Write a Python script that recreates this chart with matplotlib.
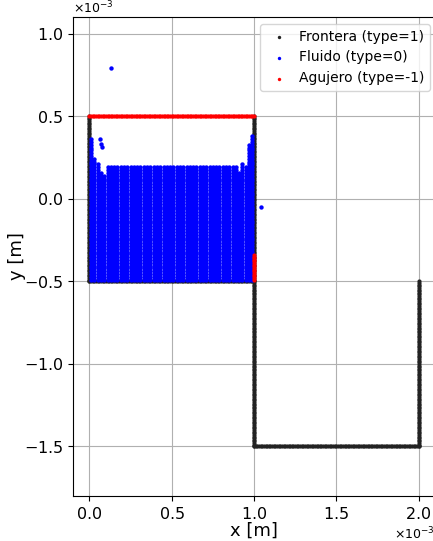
import numpy as np
import matplotlib.pyplot as plt

# values in units of 1e-3 m, scaled when plotted
scale = 1e-3

# boundary walls (type=1): segments (x0, y0, x1, y1)
frontera_segments = [
    (0.0, -0.5, 0.0, 0.5),    # left wall of the tank
    (0.0, -0.5, 1.0, -0.5),   # tank floor
    (1.0, 0.5, 1.0, -1.5),    # right wall / channel left wall
    (1.0, -1.5, 2.0, -1.5),   # channel floor
    (2.0, -1.5, 2.0, -0.5),   # channel right wall
]
frontera_spacing = 0.01

# hole particles (type=-1)
agujero_segments = [
    (0.0, 0.5, 1.0, 0.5),     # lid of the tank
    (1.0, -0.49, 1.0, -0.34), # opening on the right wall
]
agujero_spacing = 0.01

# fluid particles (type=0): lattice columns, bottom row and top of each column
fluido_dy = 0.017
fluido_x = [0.01, 0.03, 0.05, 0.07, 0.09, 0.11, 0.13, 0.15, 0.17, 0.19,
            0.21, 0.23, 0.25, 0.27, 0.29, 0.31, 0.33, 0.35, 0.37, 0.39,
            0.41, 0.43, 0.45, 0.47, 0.49, 0.51, 0.53, 0.55, 0.57, 0.59,
            0.61, 0.63, 0.65, 0.67, 0.69, 0.71, 0.73, 0.75, 0.77, 0.79,
            0.81, 0.83, 0.85, 0.87, 0.89, 0.91, 0.93, 0.95, 0.97, 0.99]
fluido_top = [0.37, 0.25, 0.21, 0.17, 0.15, 0.19, 0.19, 0.19, 0.19, 0.19,
              0.19, 0.19, 0.19, 0.19, 0.19, 0.19, 0.19, 0.19, 0.19, 0.19,
              0.19, 0.19, 0.19, 0.19, 0.19, 0.19, 0.19, 0.19, 0.19, 0.19,
              0.19, 0.19, 0.19, 0.19, 0.19, 0.19, 0.19, 0.19, 0.19, 0.19,
              0.19, 0.19, 0.19, 0.19, 0.19, 0.17, 0.21, 0.19, 0.33, 0.39]
fluido_bottom = -0.49
# loose droplets
gotas_x = [0.128, 0.062, 0.072, 0.075, 1.045]
gotas_y = [0.79, 0.36, 0.33, 0.31, -0.05]


def segment_points(segments, spacing):
    xs, ys = [], []
    for x0, y0, x1, y1 in segments:
        n = int(round(np.hypot(x1 - x0, y1 - y0) / spacing)) + 1
        xs.append(np.linspace(x0, x1, n))
        ys.append(np.linspace(y0, y1, n))
    return np.concatenate(xs), np.concatenate(ys)


fx, fy = segment_points(frontera_segments, frontera_spacing)
ax_, ay_ = segment_points(agujero_segments, agujero_spacing)

wx, wy = [], []
for x, top in zip(fluido_x, fluido_top):
    col = np.arange(fluido_bottom, top + 1e-9, fluido_dy)
    wx.extend([x] * len(col))
    wy.extend(col)
wx = np.array(wx + gotas_x)
wy = np.array(wy + gotas_y)

fig = plt.figure(figsize=(4.33, 5.41), dpi=100)
ax = fig.add_axes([73 / 433, 45 / 541, 362 / 433, 479 / 541])

ax.scatter(fx * scale, fy * scale, s=9, c='#222222', linewidths=0, label='Frontera (type=1)')
ax.scatter(wx * scale, wy * scale, s=10, c='b', linewidths=0, label='Fluido (type=0)')
ax.scatter(ax_ * scale, ay_ * scale, s=9, c='r', linewidths=0, label='Agujero (type=-1)')

ax.set_xlim(-0.1e-3, 2.1e-3)
ax.set_ylim(-1.8e-3, 1.1e-3)
ax.set_xticks([0, 0.5e-3, 1.0e-3, 1.5e-3, 2.0e-3])
ax.set_yticks([-1.5e-3, -1.0e-3, -0.5e-3, 0, 0.5e-3, 1.0e-3])
ax.ticklabel_format(style='sci', scilimits=(0, 0), useMathText=True)
ax.tick_params(labelsize=11.5)
ax.xaxis.get_offset_text().set_fontsize(9)
ax.yaxis.get_offset_text().set_fontsize(9)
ax.set_xlabel('x [m]', fontsize=13, labelpad=0)
ax.set_ylabel('y [m]', fontsize=13, labelpad=-2)
ax.grid(True)
ax.set_axisbelow(True)
leg = ax.legend(loc='upper right', fontsize=10, handletextpad=0.4,
                bbox_to_anchor=(1.005, 1.0))
for h in leg.legend_handles:
    h.set_sizes([6])

plt.savefig('out.png', dpi=100)
